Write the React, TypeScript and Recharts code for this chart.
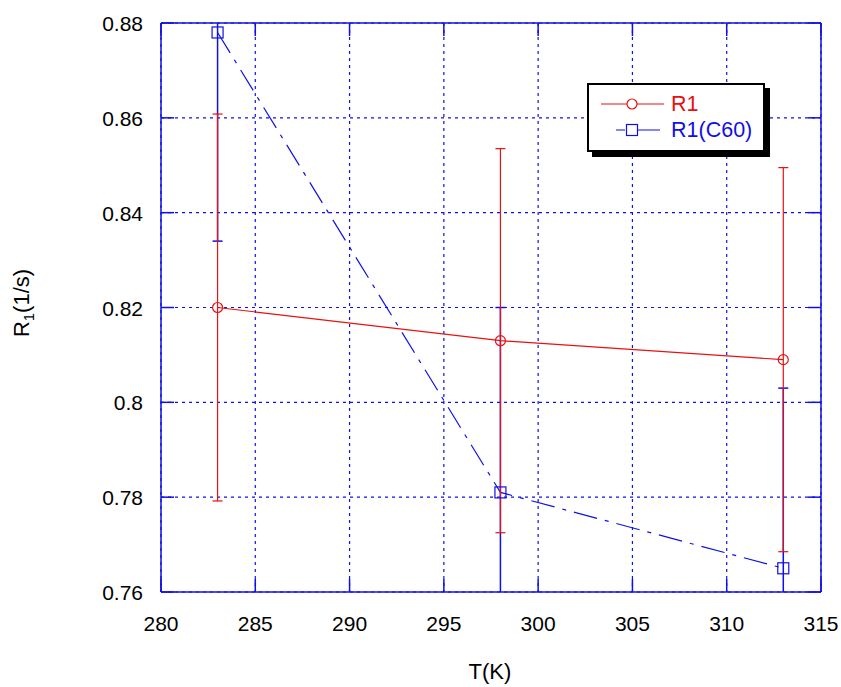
import { LineChart, Line, XAxis, YAxis, CartesianGrid, ErrorBar } from 'recharts';

const temps = [283, 298, 313];
const r1 = [0.82, 0.813, 0.809];
const r1Err = [0.0408, 0.0405, 0.0405];
const r1C60 = [0.878, 0.781, 0.765];
const r1C60Err = [0.044, 0.039, 0.038];

const xTicks = [280, 285, 290, 295, 300, 305, 310, 315];
const yTicks = [0.76, 0.78, 0.8, 0.82, 0.84, 0.86, 0.88];

const data = temps.map((t, i) => ({
    t,
    r1: r1[i],
    r1Err: r1Err[i],
    c60: r1C60[i],
    c60Err: r1C60Err[i],
}));

const BLUE = '#1010e6';
const RED = '#e81010';
const FONT = '"Liberation Sans", Arial, sans-serif';
const TICK_LEN = 13;

// tick renderers: tickSize/tickMargin are 0, so x/y sit on the axis line
const LeftTick = (props: any) => {
    const { x, y, payload } = props;
    return (
        <g>
            <line x1={x} y1={y} x2={x + TICK_LEN} y2={y} stroke={BLUE} strokeWidth={1.5} />
            <text x={x - 18} y={y} dy={8} textAnchor="end" fontSize={21} fill="#000" fontFamily={FONT}>
                {payload.value}
            </text>
        </g>
    );
};

const RightTick = (props: any) => {
    const { x, y } = props;
    return <line x1={x} y1={y} x2={x - TICK_LEN} y2={y} stroke={BLUE} strokeWidth={1.5} />;
};

const BottomTick = (props: any) => {
    const { x, y, payload } = props;
    return (
        <g>
            <line x1={x} y1={y} x2={x} y2={y - TICK_LEN} stroke={BLUE} strokeWidth={1.5} />
            <text x={x} y={y + 39} textAnchor="middle" fontSize={21} fill="#000" fontFamily={FONT}>
                {payload.value}
            </text>
        </g>
    );
};

const TopTick = (props: any) => {
    const { x, y } = props;
    return <line x1={x} y1={y} x2={x} y2={y + TICK_LEN} stroke={BLUE} strokeWidth={1.5} />;
};

const CircleDot = (props: any) => {
    const { cx, cy, index } = props;
    return <circle key={index} cx={cx} cy={cy} r={5} fill="none" stroke={RED} strokeWidth={1.2} />;
};

const SquareDot = (props: any) => {
    const { cx, cy, index } = props;
    return <rect key={index} x={cx - 5.5} y={cy - 5.5} width={11} height={11} fill="none" stroke={BLUE} strokeWidth={1.2} />;
};

function Legend() {
    return (
        <div style={{ position: 'absolute', left: 587, top: 83 }}>
            <div style={{ position: 'absolute', left: 5, top: 5, width: 178, height: 69, background: '#000' }} />
            <div
                style={{
                    position: 'relative',
                    width: 174,
                    height: 65,
                    border: '2px solid #000',
                    background: '#fff',
                    fontFamily: FONT,
                    fontSize: 21.5,
                    lineHeight: '24px',
                }}
            >
                <svg width={80} height={65} style={{ position: 'absolute', left: 0, top: 0 }}>
                    <line x1={12} y1={19} x2={75} y2={19} stroke={RED} strokeWidth={1.2} />
                    <circle cx={43} cy={19} r={5} fill="#fff" stroke={RED} strokeWidth={1.2} />
                    <line x1={27} y1={45} x2={71} y2={45} stroke={BLUE} strokeWidth={1.2} strokeDasharray="9 4 40" />
                    <rect x={37.5} y={39.5} width={11} height={11} fill="#fff" stroke={BLUE} strokeWidth={1.2} />
                </svg>
                <div style={{ position: 'absolute', left: 82, top: 7, color: RED }}>R1</div>
                <div style={{ position: 'absolute', left: 82, top: 33, color: BLUE }}>R1(C60)</div>
            </div>
        </div>
    );
}

export default function App() {
    return (
        <div style={{ position: 'absolute', left: 0, top: 0, width: 841, height: 687, background: '#fff' }}>
            <LineChart
                width={841}
                height={687}
                data={data}
                margin={{ top: 3, right: 0, bottom: 55, left: 101 }}
            >
                <defs>
                    <clipPath id="plotClip">
                        <rect x={161} y={23} width={660} height={569} />
                    </clipPath>
                </defs>
                <CartesianGrid stroke={BLUE} strokeDasharray="3 4" strokeWidth={1.2} horizontalValues={yTicks} verticalValues={xTicks} />
                <XAxis
                    dataKey="t"
                    type="number"
                    domain={[280, 315]}
                    ticks={xTicks}
                    allowDataOverflow
                    stroke={BLUE}
                    strokeWidth={1.5}
                    tickLine={false}
                    tickSize={0}
                    tickMargin={0}
                    tick={<BottomTick />}
                    height={40}
                    interval={0}
                />
                <XAxis
                    xAxisId="top"
                    orientation="top"
                    dataKey="t"
                    type="number"
                    domain={[280, 315]}
                    ticks={xTicks}
                    allowDataOverflow
                    stroke={BLUE}
                    strokeWidth={1.5}
                    tickLine={false}
                    tickSize={0}
                    tickMargin={0}
                    tick={<TopTick />}
                    height={20}
                    interval={0}
                />
                <YAxis
                    type="number"
                    domain={[0.76, 0.88]}
                    ticks={yTicks}
                    allowDataOverflow
                    stroke={BLUE}
                    strokeWidth={1.5}
                    tickLine={false}
                    tickSize={0}
                    tickMargin={0}
                    tick={<LeftTick />}
                    width={60}
                    interval={0}
                />
                <YAxis
                    yAxisId="right"
                    orientation="right"
                    type="number"
                    domain={[0.76, 0.88]}
                    ticks={yTicks}
                    allowDataOverflow
                    stroke={BLUE}
                    strokeWidth={1.5}
                    tickLine={false}
                    tickSize={0}
                    tickMargin={0}
                    tick={<RightTick />}
                    width={20}
                    interval={0}
                />
                <Line
                    dataKey="c60"
                    stroke={BLUE}
                    strokeWidth={1.2}
                    strokeDasharray="24 8 4 8"
                    dot={<SquareDot />}
                    activeDot={false}
                    isAnimationActive={false}
                >
                    <ErrorBar dataKey="c60Err" width={5} stroke={BLUE} strokeWidth={1.5} direction="y" clipPath="url(#plotClip)" />
                </Line>
                <Line
                    dataKey="r1"
                    stroke={RED}
                    strokeWidth={1.2}
                    dot={<CircleDot />}
                    activeDot={false}
                    isAnimationActive={false}
                >
                    <ErrorBar dataKey="r1Err" width={5} stroke={RED} strokeWidth={1.2} direction="y" clipPath="url(#plotClip)" />
                </Line>
            </LineChart>
            <svg width={841} height={687} style={{ position: 'absolute', left: 0, top: 0, pointerEvents: 'none' }}>
                <text
                    transform="translate(29, 303) rotate(-90)"
                    textAnchor="middle"
                    fontSize={22}
                    fontFamily={FONT}
                    fill="#000"
                >
                    R<tspan fontSize={15} dy={5}>1</tspan>
                    <tspan dy={-5}>(1/s)</tspan>
                </text>
                <text x={490} y={679} textAnchor="middle" fontSize={22} fontFamily={FONT} fill="#000">
                    T(K)
                </text>
            </svg>
            <Legend />
        </div>
    );
}
